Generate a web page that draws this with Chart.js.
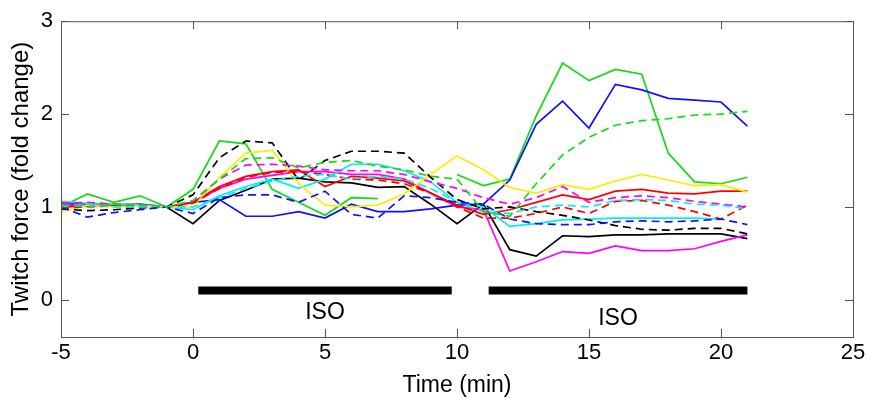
<!DOCTYPE html>
<html>
<head>
<meta charset="utf-8">
<script src="https://cdn.jsdelivr.net/npm/chart.js@4.4.1/dist/chart.umd.min.js"></script>
<style>
  html, body { margin: 0; padding: 0; background: #fff; }
  #wrap { width: 870px; height: 403px; position: relative; }
</style>
</head>
<body>
<div id="wrap"><canvas id="twitchChart"></canvas></div>
<script>
// time points (min), one value per minute
const time = [-5, -4, -3, -2, -1, 0, 1, 2, 3, 4, 5, 6, 7, 8, 9, 10, 11, 12, 13, 14, 15, 16, 17, 18, 19, 20, 21];

// twitch force, fold change vs. baseline
const greenSolid   = [1.00, 1.14, 1.05, 1.12, 1.00, 1.19, 1.71, 1.68, 1.19, 1.05, 0.91, 1.10, 1.09, null, null, 1.35, 1.23, 1.30, 1.98, 2.55, 2.36, 2.48, 2.43, 1.58, 1.27, 1.25, 1.32];
const greenDashed  = [1.02, 1.00, 1.03, 1.02, 1.00, 1.07, 1.30, 1.52, 1.53, 1.42, 1.48, 1.50, 1.44, 1.40, 1.33, 1.30, 0.95, 0.90, 1.25, 1.56, 1.75, 1.88, 1.93, 1.95, 1.99, 2.00, 2.03];
const blueSolid    = [1.05, 1.03, 1.02, 1.03, 1.00, 1.05, 1.08, 0.90, 0.90, 0.95, 0.88, 1.03, 0.95, 0.95, 0.98, 1.02, 1.03, 1.29, 1.89, 2.14, 1.85, 2.32, 2.26, 2.17, 2.15, 2.13, 1.87];
const blueDashed   = [1.00, 0.89, 0.94, 0.97, 1.00, 0.93, 1.10, 1.13, 1.13, 1.05, 1.17, 0.92, 0.88, 1.12, 1.10, 1.05, 1.03, 0.87, 0.82, 0.81, 0.81, 0.84, 0.85, 0.84, 0.85, 0.87, 0.81];
const blackSolid   = [1.00, 1.02, 1.01, 1.02, 1.00, 0.82, 1.07, 1.18, 1.30, 1.31, 1.27, 1.26, 1.21, 1.22, 1.03, 0.82, 1.03, 0.54, 0.47, 0.69, 0.68, 0.70, 0.70, 0.71, 0.71, 0.71, 0.66];
const blackDashed  = [0.98, 0.96, 0.97, 0.99, 1.00, 1.13, 1.53, 1.71, 1.69, 1.29, 1.50, 1.60, 1.60, 1.58, 1.32, 1.08, 0.98, 1.00, 0.95, 0.91, 0.86, 0.80, 0.76, 0.75, 0.77, 0.77, 0.71];
const yellowSolid  = [0.95, 1.02, 1.00, 1.01, 1.00, 1.00, 1.32, 1.58, 1.61, 1.25, 1.02, 1.00, 1.02, 1.14, 1.35, 1.55, 1.40, 1.21, 1.15, 1.24, 1.19, 1.28, 1.35, 1.29, 1.23, 1.24, 1.16];
const magentaSolid = [1.03, 1.02, 1.03, 1.02, 1.00, 1.05, 1.20, 1.30, 1.34, 1.38, 1.38, 1.35, 1.35, 1.30, 1.15, 1.00, 0.97, 0.31, 0.41, 0.52, 0.50, 0.58, 0.53, 0.53, 0.55, 0.63, 0.70];
const magentaDashed= [1.04, 1.05, 1.03, 1.02, 1.00, 1.06, 1.30, 1.45, 1.46, 1.44, 1.40, 1.39, 1.39, 1.35, 1.27, 1.20, 1.10, 1.03, 1.10, 1.22, 1.05, 1.10, 1.12, 1.10, 1.06, 1.03, 1.00];
const cyanSolid    = [1.06, 1.04, 1.03, 1.02, 1.00, 0.97, 1.12, 1.22, 1.30, 1.20, 1.30, 1.46, 1.46, 1.39, 1.27, 1.05, 1.00, 0.79, 0.82, 0.86, 0.87, 0.88, 0.88, 0.88, 0.88, 0.87, null];
const cyanDashed   = [1.00, 1.03, 1.00, 1.00, 1.00, 1.00, 1.10, 1.20, 1.28, 1.33, 1.35, 1.30, 1.33, 1.30, 1.20, 1.05, 0.95, 0.93, 1.00, 1.02, 1.00, 1.07, 1.08, 1.07, 1.03, 1.02, 0.98];
const redSolid     = [1.00, 1.01, 1.02, 1.01, 1.00, 1.05, 1.22, 1.33, 1.38, 1.40, 1.22, 1.33, 1.31, 1.28, 1.15, 1.02, 0.92, 0.97, 1.05, 1.13, 1.08, 1.17, 1.19, 1.15, 1.14, 1.17, 1.17];
const redDashed    = [0.99, 1.00, 1.01, 1.00, 1.00, 1.04, 1.20, 1.32, 1.37, 1.38, 1.35, 1.30, 1.29, 1.25, 1.15, 1.00, 0.88, 0.88, 0.93, 1.00, 0.93, 1.06, 1.07, 1.02, 0.95, 0.87, 1.02];

// isoproterenol application windows (min) and bar level
const isoSpans = [[0.2, 9.8], [11.2, 21]];
const isoLevel = 0.1;
const isoLabelY = [-0.14, -0.2];

const xTicks = [-5, 0, 5, 10, 15, 20, 25];
const yTicks = [0, 1, 2, 3];

const FONT = "'Liberation Sans', Arial, Helvetica, sans-serif";
const AXIS_COLOR = '#555';

function trace(values, color, dashed) {
    return {
        data: time.map((t, i) => ({ x: t, y: values[i] })),
        borderColor: color,
        borderWidth: 1.7,
        borderDash: dashed ? [8, 5] : [],
        pointRadius: 0,
        fill: false,
        tension: 0,
        spanGaps: false
    };
}

const datasets = [
    trace(greenDashed, '#11dd11', true),
    trace(blueDashed, '#1010ff', true),
    trace(cyanDashed, '#00f0f0', true),
    trace(redDashed, '#ff0000', true),
    trace(magentaDashed, '#ff00ff', true),
    trace(blackDashed, '#000000', true),
    trace(yellowSolid, '#f5f000', false),
    trace(cyanSolid, '#00f0f0', false),
    trace(redSolid, '#ff0000', false),
    trace(magentaSolid, '#ff00ff', false),
    trace(blueSolid, '#1010ff', false),
    trace(greenSolid, '#11dd11', false),
    trace(blackSolid, '#000000', false)
];

// thick black bars marking the ISO periods
isoSpans.forEach(span => {
    datasets.push({
        data: span.map(x => ({ x: x, y: isoLevel })),
        borderColor: '#000',
        borderWidth: 8,
        borderCapStyle: 'butt',
        pointRadius: 0,
        fill: false
    });
});

// axes box with inward ticks, plus the ISO labels
const frame = {
    id: 'frame',
    afterDatasetsDraw(chart) {
        const { ctx, chartArea: a, scales: { x, y } } = chart;
        ctx.save();
        ctx.strokeStyle = AXIS_COLOR;
        ctx.lineWidth = 1;
        ctx.strokeRect(a.left + 0.5, a.top + 0.5, a.right - a.left, a.bottom - a.top);
        ctx.beginPath();
        xTicks.forEach(v => {
            const px = Math.round(x.getPixelForValue(v)) + 0.5;
            ctx.moveTo(px, a.bottom); ctx.lineTo(px, a.bottom - 8);
            ctx.moveTo(px, a.top); ctx.lineTo(px, a.top + 8);
        });
        yTicks.forEach(v => {
            const py = Math.round(y.getPixelForValue(v)) + 0.5;
            ctx.moveTo(a.left, py); ctx.lineTo(a.left + 8, py);
            ctx.moveTo(a.right, py); ctx.lineTo(a.right - 8, py);
        });
        ctx.stroke();

        ctx.fillStyle = '#000';
        ctx.font = '23px ' + FONT;
        ctx.textAlign = 'center';
        ctx.textBaseline = 'middle';
        isoSpans.forEach((span, i) => {
            const cx = x.getPixelForValue((span[0] + span[1]) / 2);
            ctx.fillText('ISO', cx, y.getPixelForValue(isoLabelY[i]));
        });
        ctx.restore();
    }
};

const ctx = document.getElementById('twitchChart').getContext('2d');
const twitchChart = new Chart(ctx, {
    type: 'line',
    data: { datasets: datasets },
    options: {
        responsive: true,
        maintainAspectRatio: false,
        animation: false,
        events: [],
        layout: { padding: { top: 17, right: 17, left: 0, bottom: 0 } },
        plugins: {
            legend: { display: false },
            tooltip: { enabled: false }
        },
        scales: {
            x: {
                type: 'linear',
                min: -5,
                max: 25,
                afterBuildTicks: s => { s.ticks = xTicks.map(v => ({ value: v })); },
                afterFit: s => { s.height = 66; },
                grid: { display: false, drawTicks: false },
                border: { display: false },
                ticks: { color: '#000', padding: 3, font: { family: FONT, size: 22 } },
                title: { display: true, text: 'Time (min)', color: '#000', padding: { top: 0, bottom: 4 }, font: { family: FONT, size: 23 } }
            },
            y: {
                type: 'linear',
                min: -0.4,
                max: 3,
                afterBuildTicks: s => { s.ticks = yTicks.map(v => ({ value: v })); },
                afterFit: s => { s.width = 61; },
                grid: { display: false, drawTicks: false },
                border: { display: false },
                ticks: { color: '#000', padding: 8, font: { family: FONT, size: 22 } },
                title: { display: true, text: 'Twitch force (fold change)', color: '#000', padding: { top: 7, bottom: 0 }, font: { family: FONT, size: 24 } }
            }
        }
    },
    plugins: [frame]
});
</script>
</body>
</html>
